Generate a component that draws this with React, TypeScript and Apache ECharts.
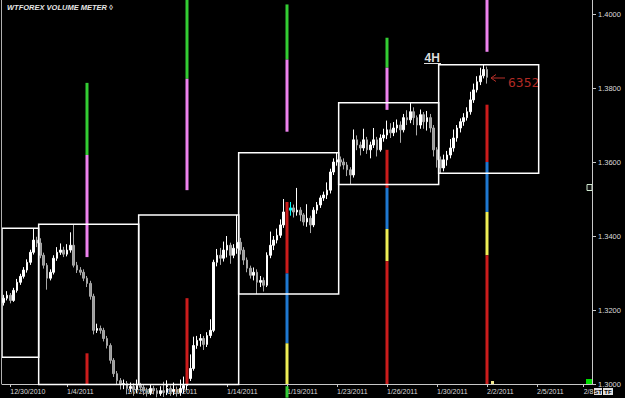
import React, { useEffect, useRef } from 'react';
import * as echarts from 'echarts';

// ---- data ----
const barSlots = 177; // 4H slots shown on the time axis
const dateTicks: [number, string][] = [
  [2, '12/30/2010'], [19, '1/4/2011'], [37, '1/7/2011'], [49, '1/11/2011'],
  [67, '1/14/2011'], [85, '1/19/2011'], [100, '1/23/2011'], [115, '1/26/2011'],
  [130, '1/30/2011'], [145, '2/2/2011'], [160, '2/5/2011'], [174, '2/8'],
];
const priceTicks = { min: 1.3, max: 1.4038, step: 0.02 };

const opens = [
  1.3220, 1.3232, 1.3240, 1.3226, 1.3253, 1.3275, 1.3291, 1.3308, 1.3329, 1.3356,
  1.3389, 1.3381, 1.3348, 1.3321, 1.3286, 1.3302, 1.3340, 1.3356, 1.3362, 1.3351,
  1.3362, 1.3375, 1.3321, 1.3308, 1.3302, 1.3286, 1.3272, 1.3237, 1.3145, 1.3150,
  1.3145, 1.3123, 1.3104, 1.3064, 1.3028, 1.3009, 1.2999, 1.3001, 1.2988, 1.2993,
  1.2985, 1.2996, 1.2991, 1.2982, 1.2977, 1.2988, 1.2982, 1.2974, 1.2982, 1.2977,
  1.2988, 1.2980, 1.2985, 1.2977, 1.2988, 1.2996, 1.3015, 1.3042, 1.3104, 1.3118,
  1.3123, 1.3107, 1.3131, 1.3145, 1.3329, 1.3348, 1.3340, 1.3362, 1.3375, 1.3348,
  1.3367, 1.3383, 1.3362, 1.3335, 1.3313, 1.3294, 1.3302, 1.3275, 1.3280, 1.3267,
  1.3348, 1.3375, 1.3389, 1.3402, 1.3430, 1.3465, 1.3470, 1.3476, 1.3465, 1.3470,
  1.3457, 1.3438, 1.3448, 1.3430, 1.3470, 1.3484, 1.3503, 1.3511, 1.3524, 1.3573,
  1.3600, 1.3606, 1.3600, 1.3592, 1.3579, 1.3565, 1.3660, 1.3646, 1.3638, 1.3660,
  1.3633, 1.3646, 1.3660, 1.3633, 1.3665, 1.3673, 1.3687, 1.3679, 1.3692, 1.3700,
  1.3687, 1.3720, 1.3714, 1.3736, 1.3720, 1.3700, 1.3728, 1.3709, 1.3720, 1.3692,
  1.3633, 1.3606, 1.3584, 1.3606, 1.3619, 1.3638, 1.3665, 1.3692, 1.3709, 1.3720,
  1.3736, 1.3768, 1.3795, 1.3817, 1.3833, 1.3850,
];
const closes = [
  1.3232, 1.3240, 1.3226, 1.3253, 1.3275, 1.3291, 1.3308, 1.3329, 1.3356, 1.3389,
  1.3381, 1.3348, 1.3321, 1.3286, 1.3302, 1.3340, 1.3356, 1.3362, 1.3351, 1.3362,
  1.3375, 1.3321, 1.3308, 1.3302, 1.3286, 1.3272, 1.3237, 1.3145, 1.3150, 1.3145,
  1.3123, 1.3104, 1.3064, 1.3028, 1.3009, 1.2999, 1.3001, 1.2988, 1.2993, 1.2985,
  1.2996, 1.2991, 1.2982, 1.2977, 1.2988, 1.2982, 1.2974, 1.2982, 1.2977, 1.2988,
  1.2980, 1.2985, 1.2977, 1.2988, 1.2996, 1.3015, 1.3042, 1.3104, 1.3118, 1.3123,
  1.3107, 1.3131, 1.3145, 1.3329, 1.3348, 1.3340, 1.3362, 1.3375, 1.3348, 1.3367,
  1.3383, 1.3362, 1.3335, 1.3313, 1.3294, 1.3302, 1.3275, 1.3280, 1.3267, 1.3348,
  1.3375, 1.3389, 1.3402, 1.3430, 1.3465, 1.3470, 1.3476, 1.3465, 1.3470, 1.3457,
  1.3438, 1.3448, 1.3430, 1.3470, 1.3484, 1.3503, 1.3511, 1.3524, 1.3573, 1.3600,
  1.3606, 1.3600, 1.3592, 1.3579, 1.3565, 1.3660, 1.3646, 1.3638, 1.3660, 1.3633,
  1.3646, 1.3660, 1.3633, 1.3665, 1.3673, 1.3687, 1.3679, 1.3692, 1.3700, 1.3687,
  1.3720, 1.3714, 1.3736, 1.3720, 1.3700, 1.3728, 1.3709, 1.3720, 1.3692, 1.3633,
  1.3606, 1.3584, 1.3606, 1.3619, 1.3638, 1.3665, 1.3692, 1.3709, 1.3720, 1.3736,
  1.3768, 1.3795, 1.3817, 1.3833, 1.3850, 1.3829,
];
const lows = [
  1.3212, 1.3226, 1.3218, 1.3222, 1.3247, 1.3268, 1.3285, 1.3301, 1.3322, 1.3350,
  1.3370, 1.3340, 1.3312, 1.3255, 1.3280, 1.3296, 1.3333, 1.3349, 1.3343, 1.3345,
  1.3355, 1.3315, 1.3300, 1.3294, 1.3278, 1.3262, 1.3228, 1.3134, 1.3138, 1.3136,
  1.3115, 1.3096, 1.3055, 1.3019, 1.2998, 1.2985, 1.2986, 1.2972, 1.2978, 1.2968,
  1.2975, 1.2980, 1.2970, 1.2966, 1.2970, 1.2972, 1.2964, 1.2968, 1.2965, 1.2970,
  1.2968, 1.2970, 1.2966, 1.2968, 1.2975, 1.2984, 1.3008, 1.3036, 1.3095, 1.3101,
  1.3092, 1.3100, 1.3124, 1.3140, 1.3318, 1.3322, 1.3331, 1.3342, 1.3325, 1.3340,
  1.3352, 1.3350, 1.3322, 1.3302, 1.3285, 1.3280, 1.3243, 1.3262, 1.3250, 1.3262,
  1.3340, 1.3362, 1.3380, 1.3395, 1.3422, 1.3452, 1.3455, 1.3450, 1.3455, 1.3440,
  1.3428, 1.3425, 1.3408, 1.3424, 1.3460, 1.3476, 1.3495, 1.3500, 1.3515, 1.3565,
  1.3590, 1.3588, 1.3580, 1.3562, 1.3539, 1.3558, 1.3632, 1.3618, 1.3630, 1.3622,
  1.3610, 1.3638, 1.3615, 1.3628, 1.3655, 1.3662, 1.3665, 1.3670, 1.3680, 1.3652,
  1.3680, 1.3700, 1.3705, 1.3700, 1.3672, 1.3690, 1.3690, 1.3685, 1.3680, 1.3615,
  1.3585, 1.3570, 1.3575, 1.3590, 1.3610, 1.3628, 1.3655, 1.3680, 1.3698, 1.3712,
  1.3728, 1.3760, 1.3788, 1.3808, 1.3826, 1.3812,
];
const highs = [
  1.3241, 1.3251, 1.3246, 1.3260, 1.3284, 1.3298, 1.3316, 1.3337, 1.3363, 1.3419,
  1.3398, 1.3394, 1.3355, 1.3327, 1.3310, 1.3348, 1.3370, 1.3380, 1.3371, 1.3378,
  1.3410, 1.3432, 1.3330, 1.3316, 1.3310, 1.3292, 1.3279, 1.3244, 1.3163, 1.3158,
  1.3152, 1.3130, 1.3110, 1.3070, 1.3035, 1.3016, 1.3012, 1.3008, 1.3004, 1.3002,
  1.3012, 1.3003, 1.2997, 1.2990, 1.2998, 1.2995, 1.2989, 1.2994, 1.3006, 1.3010,
  1.2996, 1.3004, 1.2993, 1.3012, 1.3020, 1.3042, 1.3080, 1.3128, 1.3130, 1.3135,
  1.3130, 1.3140, 1.3175, 1.3336, 1.3365, 1.3368, 1.3385, 1.3400, 1.3382, 1.3378,
  1.3457, 1.3395, 1.3370, 1.3342, 1.3320, 1.3315, 1.3310, 1.3292, 1.3288, 1.3356,
  1.3412, 1.3400, 1.3420, 1.3445, 1.3500, 1.3484, 1.3492, 1.3485, 1.3530, 1.3478,
  1.3462, 1.3486, 1.3455, 1.3478, 1.3492, 1.3510, 1.3520, 1.3545, 1.3582, 1.3610,
  1.3625, 1.3615, 1.3610, 1.3600, 1.3586, 1.3688, 1.3672, 1.3655, 1.3690, 1.3668,
  1.3655, 1.3692, 1.3668, 1.3675, 1.3690, 1.3712, 1.3705, 1.3708, 1.3715, 1.3710,
  1.3730, 1.3740, 1.3760, 1.3748, 1.3726, 1.3742, 1.3735, 1.3738, 1.3730, 1.3700,
  1.3640, 1.3615, 1.3620, 1.3630, 1.3662, 1.3688, 1.3700, 1.3718, 1.3732, 1.3748,
  1.3790, 1.3812, 1.3832, 1.3855, 1.3863, 1.3858,
];
const highlightBar = 86;
const lastPrice = 1.3829;
const lastVolume = '6352';

// weekly range boxes: [startSlot, endSlot, weekLow, weekHigh]
const weekBoxes: number[][] = [
  [0, 11, 1.3072, 1.3421],
  [11, 41, 1.2968, 1.3432],
  [41, 71, 1.2964, 1.3457],
  [71, 101, 1.3243, 1.3625],
  [101, 131, 1.3539, 1.3760],
  [131, 161, 1.3570, 1.3863],
];

// volume meter segments: [slot, from, to, level]
const meterSegments: [number, number, number, string][] = [
  [25, 1.3619, 1.3814, 'green'], [25, 1.3343, 1.3619, 'pink'], [25, 1.3000, 1.3083, 'red'],
  [55, 1.3825, 1.4038, 'green'], [55, 1.3524, 1.3825, 'pink'], [55, 1.3000, 1.3232, 'red'],
  [85, 1.3877, 1.4026, 'green'], [85, 1.3682, 1.3877, 'pink'], [85, 1.3299, 1.3492, 'red'],
  [85, 1.3110, 1.3299, 'blue'], [85, 1.3000, 1.3110, 'yellow'], [85, 1.2963, 1.2994, 'green'],
  [115, 1.3855, 1.3936, 'green'], [115, 1.3741, 1.3855, 'pink'], [115, 1.3530, 1.3633, 'red'],
  [115, 1.3419, 1.3530, 'blue'], [115, 1.3332, 1.3419, 'yellow'], [115, 1.3000, 1.3332, 'red'],
  [145, 1.3898, 1.4038, 'pink'], [145, 1.3600, 1.3755, 'red'], [145, 1.3465, 1.3600, 'blue'],
  [145, 1.3348, 1.3465, 'yellow'], [145, 1.3000, 1.3348, 'red'],
];
const meterColors: Record<string, string> = {
  green: '#33cc33', pink: '#ee82ee', red: '#cc1c1c', blue: '#1f78d1', yellow: '#eeee55',
};

export default function App() {
  const ref = useRef<HTMLDivElement>(null);
  useEffect(() => {
    document.body.style.margin = '0';
    document.body.style.background = '#000';
    const chart = echarts.init(ref.current!, null, { renderer: 'svg' });

    const categories: string[] = Array.from({ length: barSlots }, () => '');
    dateTicks.forEach(([i, l]) => { categories[i] = l; });

    const candles = opens.map((o, i) => {
      const v = [o, closes[i], lows[i], highs[i]];
      return i === highlightBar
        ? { value: v, itemStyle: { color: '#00ffff', color0: '#00ffff', borderColor: '#00ffff', borderColor0: '#00ffff' } }
        : v;
    });

    const font = 'Liberation Sans';
    const axisGray = '#c8c8c8';

    chart.setOption({
      animation: false,
      backgroundColor: '#000000',
      textStyle: { fontFamily: font },
      grid: { left: 2, right: 33, top: 0, bottom: 14, containLabel: false },
      xAxis: {
        type: 'category',
        data: categories,
        boundaryGap: true,
        axisLine: { show: true, lineStyle: { color: axisGray, width: 1 } },
        axisTick: {
          show: true, alignWithLabel: true, length: 3,
          interval: (_i: number, v: string) => v !== '',
          lineStyle: { color: axisGray },
        },
        axisLabel: { interval: 0, color: '#dcdcdc', fontSize: 7, fontFamily: font, align: 'left', margin: 4 },
        splitLine: { show: false },
      },
      yAxis: {
        type: 'value',
        position: 'right',
        min: priceTicks.min,
        max: priceTicks.max,
        interval: priceTicks.step,
        axisLine: { show: true, lineStyle: { color: axisGray } },
        axisTick: { show: true, length: 4, lineStyle: { color: axisGray } },
        axisLabel: {
          color: '#dcdcdc', fontSize: 7.5, fontFamily: font, margin: 6, showMaxLabel: false,
          formatter: (v: number) => v.toFixed(4),
        },
        splitLine: { show: false },
      },
      series: [
        {
          type: 'candlestick',
          data: candles,
          barWidth: 2,
          clip: false,
          z: 2,
          itemStyle: {
            color: '#ffffff', color0: '#9a9a9a',
            borderColor: '#ffffff', borderColor0: '#a8a8a8', borderWidth: 1,
          },
          markLine: {
            silent: true,
            symbol: ['none', 'none'],
            lineStyle: { opacity: 0 },
            label: {
              show: true, position: 'end', distance: 1,
              formatter: lastPrice.toFixed(4),
              backgroundColor: '#ffffff', color: '#000000', fontSize: 7.5, fontFamily: font,
              padding: [2, 4, 1, 4],
            },
            data: [{ yAxis: lastPrice }],
          },
        },
        {
          type: 'custom',
          z: 3,
          data: meterSegments.map((s) => [s[0], s[1], s[2]]),
          encode: { x: 0, y: [1, 2] },
          renderItem: (params: any, api: any) => {
            const idx = api.value(0);
            const top = api.coord([idx, api.value(2)]);
            const bot = api.coord([idx, api.value(1)]);
            const key = meterSegments[params.dataIndex][3];
            return {
              type: 'rect',
              shape: { x: top[0] - 1.5, y: top[1], width: 3, height: bot[1] - top[1] },
              style: { fill: meterColors[key] },
            };
          },
        },
        {
          type: 'custom',
          z: 4,
          data: weekBoxes,
          encode: { x: [0, 1], y: [2, 3] },
          renderItem: (params: any, api: any) => {
            const bw = api.size([1, 0])[0];
            const p1 = api.coord([api.value(0), api.value(3)]);
            const p2 = api.coord([api.value(1), api.value(2)]);
            const x1 = p1[0] - bw / 2;
            const x2 = p2[0] - bw / 2;
            const cs = params.coordSys;
            const shape = echarts.graphic.clipRectByRect(
              { x: x1, y: p1[1], width: x2 - x1, height: p2[1] - p1[1] },
              { x: cs.x, y: cs.y, width: cs.width, height: cs.height + 0.5 },
            );
            if (!shape) return null;
            return {
              type: 'rect',
              shape,
              style: { fill: 'transparent', stroke: '#ffffff', lineWidth: 1.5 },
            };
          },
        },
      ],
      graphic: [
        { type: 'line', shape: { x1: 1.5, y1: 0, x2: 1.5, y2: 384 }, style: { stroke: '#b0b0b0', lineWidth: 1 }, z: 10 },
        {
          type: 'text', x: 7, y: 7,
          style: {
            text: 'WTFOREX VOLUME METER ◊', fill: '#e6e6e6', fontSize: 7.5, fontStyle: 'italic',
            fontWeight: 'bold', fontFamily: font, verticalAlign: 'middle',
          },
        },
        {
          type: 'text', x: 424.5, y: 57.5,
          style: { text: '4H', fill: '#dddddd', fontSize: 12, fontWeight: 'bold', fontFamily: font, verticalAlign: 'middle' },
        },
        { type: 'line', shape: { x1: 424, y1: 63.5, x2: 441, y2: 63.5 }, style: { stroke: '#dddddd', lineWidth: 1 } },
        { type: 'line', shape: { x1: 491, y1: 78, x2: 505, y2: 78 }, style: { stroke: '#b8302a', lineWidth: 1 } },
        {
          type: 'polyline', shape: { points: [[496, 74.5], [491, 78], [496, 81.5]] },
          style: { stroke: '#b8302a', lineWidth: 1, fill: 'transparent' },
        },
        {
          type: 'text', x: 508, y: 82.5,
          style: { text: lastVolume, fill: '#b02a24', fontSize: 13, fontFamily: 'DejaVu Sans Mono', verticalAlign: 'middle' },
        },
        { type: 'rect', shape: { x: 587, y: 184.5, width: 5, height: 6 }, style: { fill: '#111111', stroke: '#cfe8cf', lineWidth: 1 } },
        { type: 'rect', shape: { x: 586, y: 379, width: 7, height: 5 }, style: { fill: '#00dd00' } },
        { type: 'rect', shape: { x: 491, y: 381, width: 3, height: 3 }, style: { fill: '#f0e68c' } },
        { type: 'rect', shape: { x: 594, y: 388, width: 8, height: 7 }, style: { fill: '#e0e0e0' } },
        { type: 'rect', shape: { x: 603, y: 388, width: 10, height: 7 }, style: { fill: '#e0e0e0' } },
        {
          type: 'text', x: 598, y: 391.5,
          style: { text: 'ST', fill: '#000', fontSize: 6, fontWeight: 'bold', fontFamily: font, align: 'center', verticalAlign: 'middle' },
        },
        {
          type: 'text', x: 608, y: 391.5,
          style: { text: 'TF', fill: '#000', fontSize: 6, fontWeight: 'bold', fontFamily: font, align: 'center', verticalAlign: 'middle' },
        },
      ],
    });
    return () => chart.dispose();
  }, []);
  return <div ref={ref} style={{ width: 625, height: 398, background: '#000' }} />;
}
